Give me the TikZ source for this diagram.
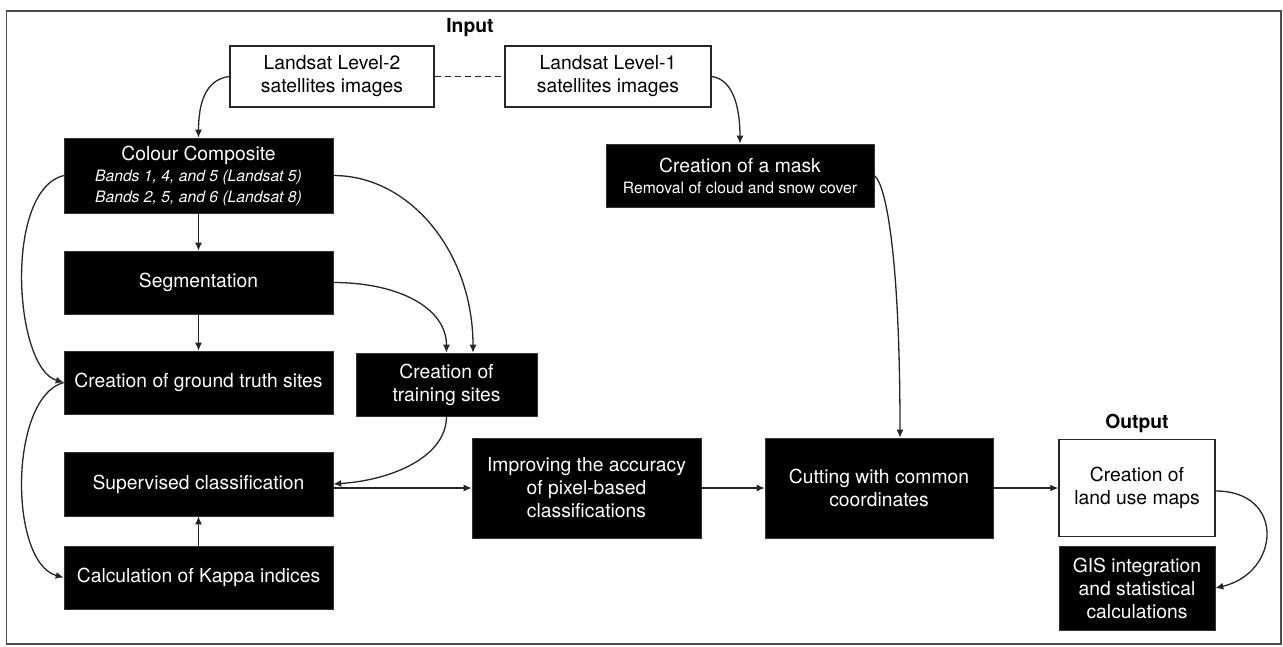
\documentclass[tikz,border=0pt]{standalone}
\usepackage{fontspec}
\setmainfont{TeX Gyre Heros}
\usetikzlibrary{arrows.meta,calc}
\newcommand{\fsz}[2]{\fontsize{#1}{#2}\selectfont}
\begin{document}
\begin{tikzpicture}[x=1pt,y=-1pt,
  wbox/.style={draw=black!85, line width=1.4pt, fill=white, inner sep=0pt, align=center, font=\fsz{19.3}{23}},
  bbox/.style={draw=black!80, line width=0.6pt, fill=black, text=white, inner sep=0pt, align=center, font=\fsz{19.3}{23}},
  conn/.style={line width=1.3pt, draw=black!85, -{Latex[length=8pt,width=7pt]}},
  lbl/.style={font=\bfseries\fsz{19.3}{23}, inner sep=0pt}]

\useasboundingbox (0,0) rectangle (1283,646);
\draw[line width=1.3pt, black!70] (6.5,11) rectangle (1281,644);

% labels
\node[lbl] (inp) at (470,28) {Input};
\node[lbl] (outp) at (1137,423) {Output};

% input boxes
\node[wbox, minimum width=204pt, minimum height=61pt] (L2) at (332,76.5) {Landsat Level-2\\satellites images};
\node[wbox, minimum width=206pt, minimum height=61pt] (L1) at (608,76.5) {Landsat Level-1\\satellites images};

% process boxes
\node[bbox, minimum width=269pt, minimum height=75pt] (CC) at (198.5,175.5)
  {Colour Composite\\[-2pt]{\fsz{15.7}{20}\itshape Bands 1, 4, and 5 (Landsat 5)}\\[-2pt]{\fsz{15.7}{20}\itshape Bands 2, 5, and 6 (Landsat 8)}};
\node[bbox, minimum width=268pt, minimum height=63pt] (mask) at (740,175.5)
  {Creation of a mask\\[-2pt]{\fsz{15.7}{20}Removal of cloud and snow cover}};
\node[bbox, minimum width=269pt, minimum height=63pt] (seg) at (198.5,282.5) {Segmentation};
\node[bbox, minimum width=269pt, minimum height=63pt] (gt) at (198.5,382.5) {Creation of ground truth sites};
\node[bbox, minimum width=181pt, minimum height=63pt] (train) at (446.5,384.5) {Creation of\\training sites};
\node[bbox, minimum width=269pt, minimum height=64pt] (sup) at (198.5,484) {Supervised classification};
\node[bbox, minimum width=269pt, minimum height=63pt] (kap) at (198.5,577.5) {Calculation of Kappa indices};
\node[bbox, minimum width=229pt, minimum height=100pt] (imp) at (586.5,488) {Improving the accuracy\\of pixel-based\\classifications};
\node[bbox, minimum width=228pt, minimum height=100pt] (cut) at (879,488) {Cutting with common\\coordinates};
\node[wbox, minimum width=156pt, minimum height=97pt] (map) at (1137,488) {Creation of\\land use maps};
\node[bbox, minimum width=156pt, minimum height=84pt] (gis) at (1137,588) {GIS integration\\and statistical\\calculations};

% connectors
\draw[line width=1.3pt, black!85, dash pattern=on 6pt off 4pt] (L2.east) -- (L1.west);
\draw[conn] (L2.west) .. controls +(-25,3) and +(0,-32) .. (CC.north);
\draw[conn] (L1.east) .. controls +(22,3) and +(0,-35) .. (mask.north);
\draw[conn] (CC.south) -- (seg.north);
\draw[conn] (seg.south) -- (gt.north);
\draw[conn] (CC.west) .. controls +(-60,15) and +(-50,-15) .. (gt.west);
\draw[conn] (gt.west) .. controls +(-55,15) and +(-55,-15) .. (kap.west);
\draw[conn] (CC.east) .. controls +(77,0) and +(0,-100) .. ($(train.north)+(26.5,0)$);
\draw[conn] (seg.east) .. controls +(65,0) and +(0,-45) .. (train.north);
\draw[conn] (train.south) .. controls +(0,40) and +(60,-4) .. (sup.east);
\draw[conn] (kap.north) -- (sup.south);
\draw[conn] ($(sup.east)+(0,4)$) -- (imp.west);
\draw[conn] (imp.east) -- (cut.west);
\draw[conn] (mask.east) .. controls +(12,9) and +(0,-180) .. ($(cut.north)+(21,0)$);
\draw[conn] (cut.east) -- (map.west);
\draw[conn] ($(map.east)+(0,3)$) .. controls +(70,0) and +(65,-15) .. (gis.east);
\end{tikzpicture}
\end{document}
